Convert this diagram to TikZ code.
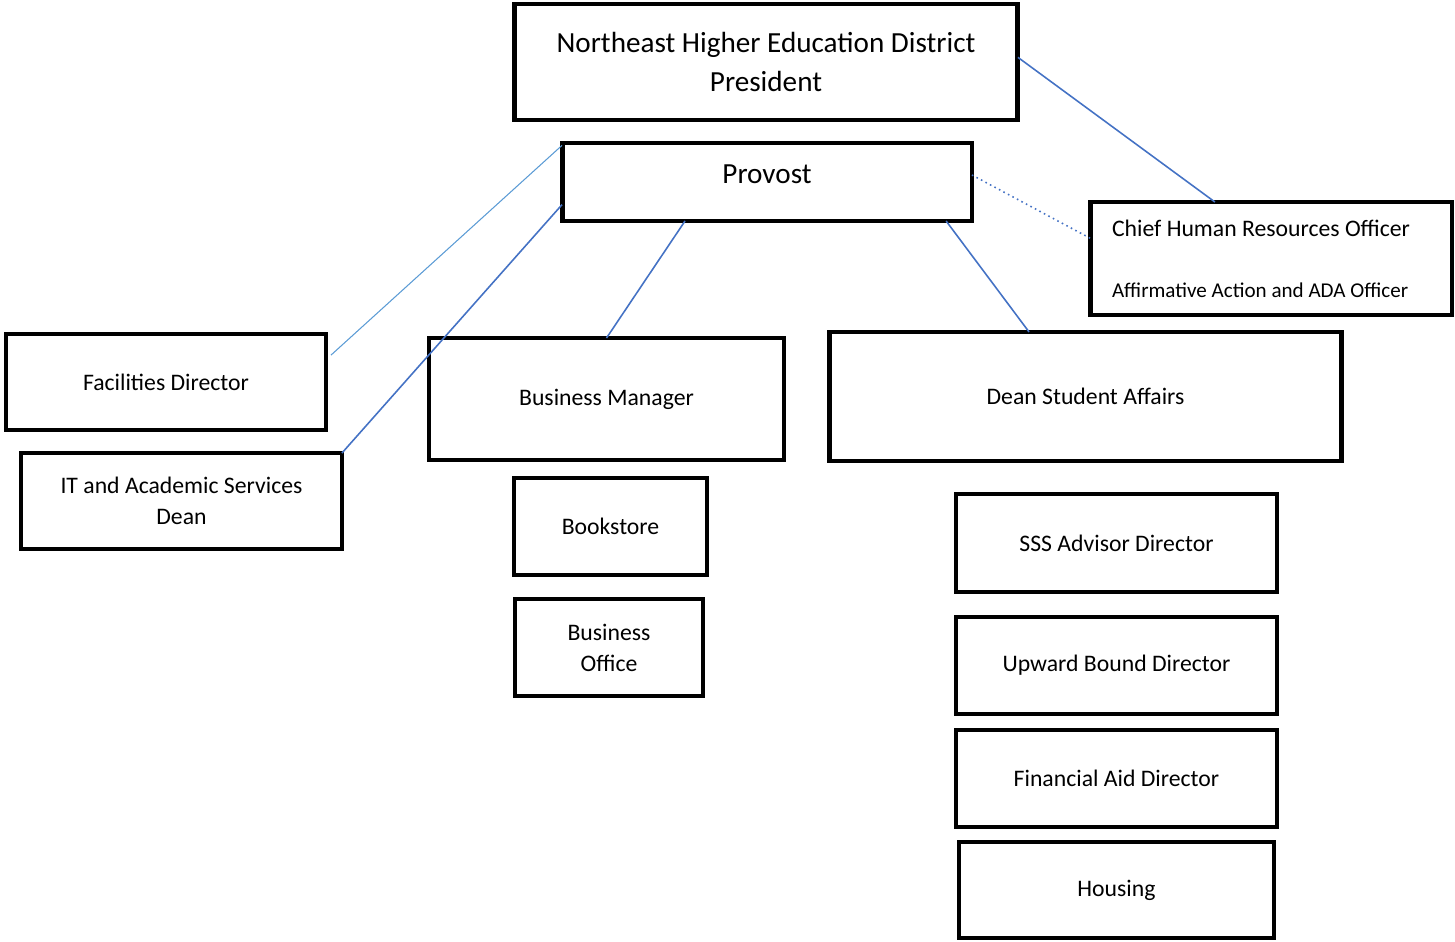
\documentclass[tikz,border=0pt]{standalone}
\usepackage{fontspec}
\setmainfont{Carlito}
\usetikzlibrary{calc}
\definecolor{linkblue}{RGB}{68,114,196}
\definecolor{lightblue}{RGB}{91,155,213}

\begin{document}
\begin{tikzpicture}[x=0.02cm,y=-0.02cm,
		box/.style={draw,line width=2.8pt,inner sep=0pt,outer sep=0pt,align=center,font=\fontsize{13.5}{17.6}\selectfont},
		bigbox/.style={box,font=\fontsize{16.6}{22.1}\selectfont},
		link/.style={linkblue,line width=0.9pt}]
		\useasboundingbox (0,0) rectangle (1455,941);
		\node (pres) at (766,62) [bigbox,minimum width=10.08cm,minimum height=2.32cm] {Northeast Higher Education District\\President};
		\node (prov) at (767,182) [bigbox,minimum width=8.2cm,minimum height=1.56cm] {};
		\node (provtxt) at ($(prov.north)+(0,31)$) [font=\fontsize{16.6}{22.1}\selectfont,inner sep=0pt] {Provost};
		\node (chro) at (1271,258.5) [box,align=flush left,text width=6.36cm,minimum width=7.24cm,minimum height=2.26cm] {Chief Human Resources Officer\\[17pt]{\fontsize{12}{15}\selectfont Affirmative Action and ADA Officer}};
		\node (fac) at (166,382) [box,minimum width=6.4cm,minimum height=1.92cm] {Facilities Director};
		\node (it) at (181.5,501) [box,minimum width=6.42cm,minimum height=1.92cm] {IT and Academic Services\\Dean};
		\node (bm) at (606.5,399) [box,minimum width=7.1cm,minimum height=2.44cm] {Business Manager};
		\node (dsa) at (1085.5,396.5) [box,minimum width=10.26cm,minimum height=2.58cm] {Dean Student Affairs};
		\node (book) at (610.5,526.5) [box,minimum width=3.86cm,minimum height=1.94cm] {Bookstore};
		\node (boff) at (609,647.5) [box,minimum width=3.76cm,minimum height=1.94cm] {Business\\Office};
		\node (sss) at (1116.5,543) [box,minimum width=6.42cm,minimum height=1.96cm] {SSS Advisor Director};
		\node (ub) at (1116.5,665.5) [box,minimum width=6.42cm,minimum height=1.94cm] {Upward Bound Director};
		\node (fa) at (1116.5,778.5) [box,minimum width=6.42cm,minimum height=1.94cm] {Financial Aid Director};
		\node (hous) at (1116.5,890) [box,minimum width=6.3cm,minimum height=1.92cm] {Housing};
		% links
		\draw[link] ($(pres.north east)!0.46!(pres.south east)$) -- ($(chro.north west)!0.345!(chro.north east)$);
		\draw[link,dotted] ($(prov.north east)!0.41!(prov.south east)$) -- ($(chro.north west)!0.32!(chro.south west)$);
		\draw[lightblue,line width=0.6pt] ($(prov.north west)!0.03!(prov.south west)$) -- ($(fac.north east)!0.22!(fac.south east)+(5,0)$);
		\draw[link] ($(prov.north west)!0.79!(prov.south west)$) -- (it.north east);
		\draw[link] ($(prov.south west)!0.30!(prov.south east)$) -- (bm.north);
		\draw[link] ($(prov.south west)!0.937!(prov.south east)$) -- ($(dsa.north west)!0.39!(dsa.north east)$);
	\end{tikzpicture}
\end{document}
